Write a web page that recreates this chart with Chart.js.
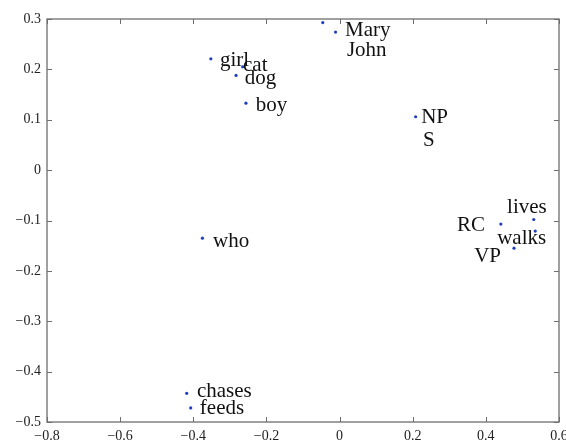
<!DOCTYPE html>
<html>
<head>
<meta charset="utf-8">
<script src="https://cdn.jsdelivr.net/npm/chart.js@4"></script>
<style>
html,body{margin:0;padding:0;background:#fff;}
#wrap{width:566px;height:442px;}
</style>
</head>
<body>
<div id="wrap"><canvas id="c" width="566" height="442"></canvas></div>
<script>
// point coordinates
const pointX = [-0.046, -0.011, -0.352, -0.265, -0.283, -0.256, 0.208, 0.441, 0.531, 0.535, 0.477, -0.375, -0.418, -0.407];
const pointY = [0.293, 0.274, 0.221, 0.205, 0.188, 0.133, 0.106, -0.107, -0.098, -0.121, -0.155, -0.135, -0.443, -0.472];

// word labels and their anchor positions (data coordinates, left edge / middle)
const labelText = ["Mary", "John", "girl", "cat", "dog", "boy", "NP", "S", "RC", "lives", "walks", "VP", "who", "chases", "feeds"];
const labelX = [0.015, 0.020, -0.327, -0.264, -0.259, -0.229, 0.223, 0.228, 0.321, 0.458, 0.431, 0.368, -0.346, -0.390, -0.382];
const labelY = [0.278, 0.238, 0.217, 0.207, 0.181, 0.129, 0.105, 0.058, -0.109, -0.075, -0.135, -0.172, -0.141, -0.440, -0.474];

// axis ticks
const xTicks = [-0.8, -0.6, -0.4, -0.2, 0, 0.2, 0.4, 0.6];
const yTicks = [-0.5, -0.4, -0.3, -0.2, -0.1, 0, 0.1, 0.2, 0.3];

const points = pointX.map((x, i) => ({x: x, y: pointY[i]}));

function fmt(v) {
  const r = Math.round(v * 10) / 10;
  if (Math.abs(r) < 1e-9) return "0";
  return r.toFixed(1).replace("-", "\u2212");
}

const frameColor = "#6e6e6e";

const framePlugin = {
  id: "frame",
  afterDraw(chart) {
    const ctx = chart.ctx;
    const a = chart.chartArea;
    const xs = chart.scales.x, ys = chart.scales.y;
    ctx.save();
    ctx.strokeStyle = frameColor;
    ctx.lineWidth = 1.3;
    ctx.strokeRect(a.left, a.top, a.right - a.left, a.bottom - a.top);
    const tl = 5;
    ctx.lineWidth = 1;
    ctx.beginPath();
    xTicks.forEach(v => {
      const px = Math.round(xs.getPixelForValue(v)) + 0.5;
      ctx.moveTo(px, a.bottom); ctx.lineTo(px, a.bottom - tl);
      ctx.moveTo(px, a.top); ctx.lineTo(px, a.top + tl);
    });
    yTicks.forEach(v => {
      const py = Math.round(ys.getPixelForValue(v)) + 0.5;
      ctx.moveTo(a.left, py); ctx.lineTo(a.left + tl, py);
      ctx.moveTo(a.right, py); ctx.lineTo(a.right - tl, py);
    });
    ctx.stroke();
    // word labels
    ctx.fillStyle = "#111";
    ctx.font = "21px 'Liberation Serif', 'Times New Roman', serif";
    ctx.textAlign = "left";
    ctx.textBaseline = "middle";
    labelText.forEach((t, i) => {
      ctx.fillText(t, xs.getPixelForValue(labelX[i]), ys.getPixelForValue(labelY[i]));
    });
    ctx.restore();
  }
};

new Chart(document.getElementById("c"), {
  type: "scatter",
  data: {
    datasets: [{
      data: points,
      backgroundColor: "#1f3fbf",
      borderColor: "#1f3fbf",
      pointRadius: 1.6,
      pointBorderWidth: 0,
      pointHoverRadius: 1.6
    }]
  },
  options: {
    responsive: false,
    animation: false,
    events: [],
    layout: { padding: { top: 19, right: 7, left: 0, bottom: 0 } },
    plugins: { legend: { display: false }, tooltip: { enabled: false } },
    scales: {
      x: {
        type: "linear",
        min: -0.8, max: 0.6,
        afterBuildTicks: s => { s.ticks = xTicks.map(v => ({value: v})); },
        afterFit: s => { s.height = 20; s.paddingLeft = 0; s.paddingRight = 0; },
        grid: { display: false, drawTicks: false },
        border: { display: false },
        ticks: {
          callback: v => fmt(v),
          font: { family: "'Liberation Serif'", size: 14 },
          color: "#222",
          padding: 6,
          maxRotation: 0, autoSkip: false
        }
      },
      y: {
        type: "linear",
        min: -0.5, max: 0.3,
        afterBuildTicks: s => { s.ticks = yTicks.map(v => ({value: v})); },
        afterFit: s => { s.width = 47; s.paddingTop = 0; s.paddingBottom = 0; },
        grid: { display: false, drawTicks: false },
        border: { display: false },
        ticks: {
          callback: v => fmt(v),
          font: { family: "'Liberation Serif'", size: 14 },
          color: "#222",
          padding: 6,
          autoSkip: false
        }
      }
    }
  },
  plugins: [framePlugin]
});
</script>
</body>
</html>
